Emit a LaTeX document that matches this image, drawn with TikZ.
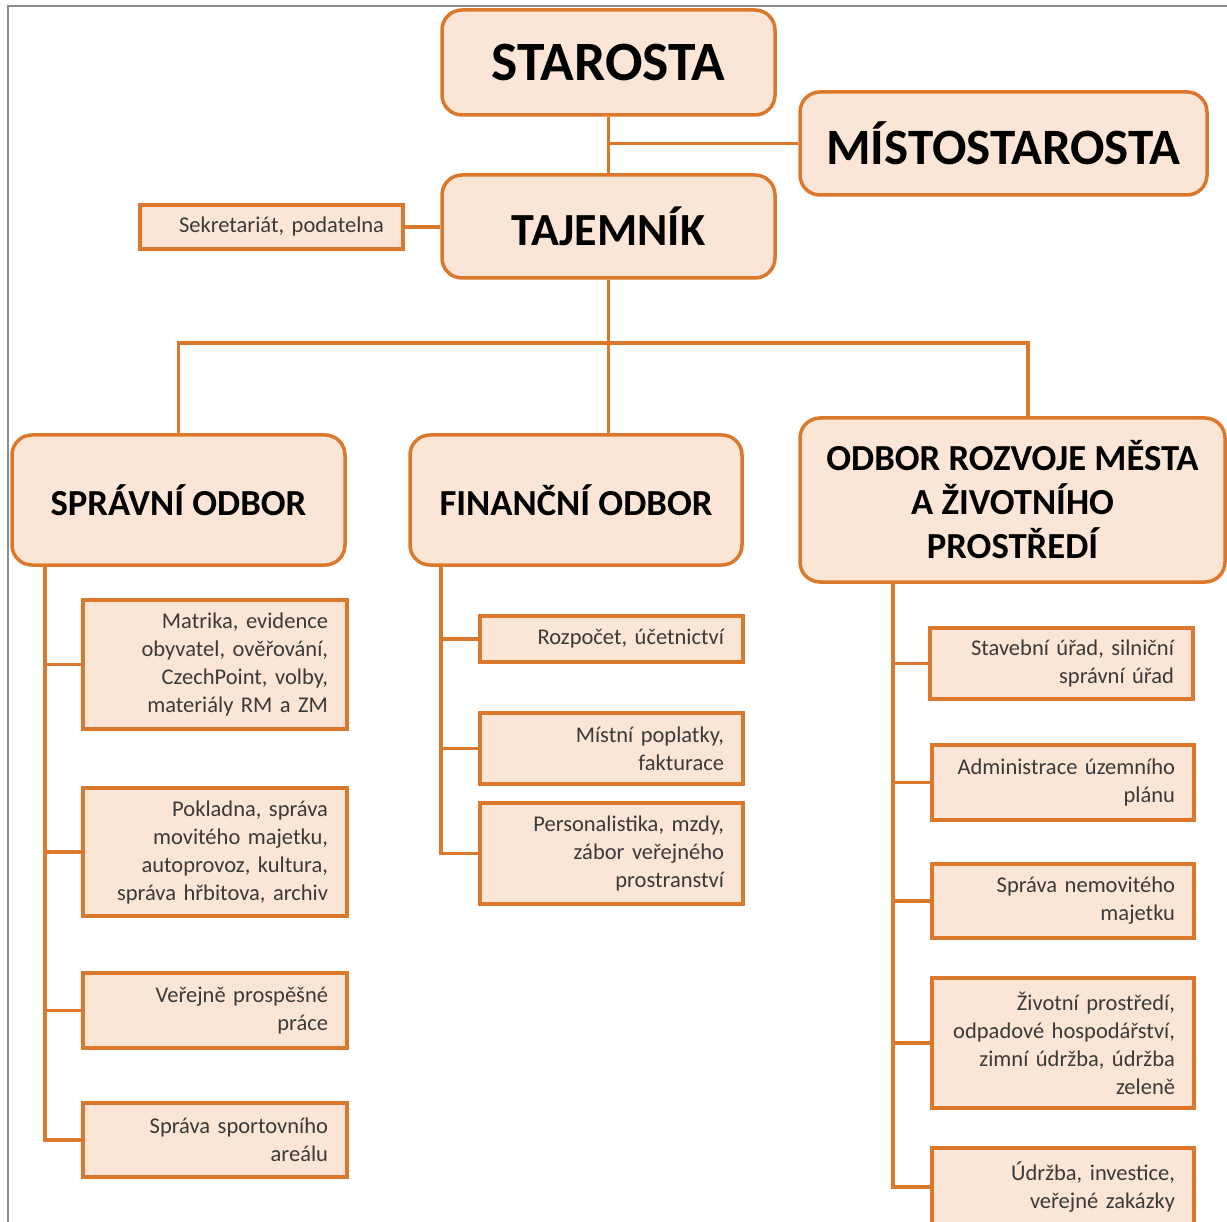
\documentclass[tikz,border=0pt]{standalone}
\usepackage{fontspec}
\setmainfont{Carlito}
\frenchspacing
\definecolor{boxline}{HTML}{DC782B}
\definecolor{boxfill}{HTML}{FBE5D6}
\definecolor{subtext}{HTML}{3A3A3A}
\definecolor{framegray}{HTML}{8C8C8C}
\tikzset{
  big/.style={draw=boxline, line width=3.5pt, fill=boxfill, rounded corners=20pt,
    inner sep=0pt, align=center, font=\bfseries, text=black},
  sub/.style={draw=boxline, line width=3.5pt, fill=boxfill, inner xsep=19pt, inner ysep=0pt,
    align=right, text=subtext, font=\fontsize{22.5}{28}\selectfont\frenchspacing},
  conn/.style={draw=boxline, line width=3.5pt},
}
\begin{document}
\begin{tikzpicture}[x=1pt,y=-1pt]
\useasboundingbox (0,0) rectangle (1227,1222);
\fill[white] (0,0) rectangle (1227,1222);
\draw[framegray, line width=2pt] (8,1230) -- (8,6) -- (1235,6);

% top level
\node[big, minimum width=333pt, minimum height=105pt, font=\bfseries\fontsize{55.5}{62}\selectfont] (star) at (608.5,62.5) {STAROSTA};
\node[big, minimum width=407pt, minimum height=103pt, font=\bfseries\fontsize{51}{58}\selectfont] (mist) at (1003.5,143.5) {MÍSTOSTAROSTA};
\node[big, minimum width=333pt, minimum height=103pt, font=\bfseries\fontsize{46}{52}\selectfont] (taj) at (608.5,226.5) {TAJEMNÍK};
\node[sub, text width=263pt-38pt, minimum height=44pt] (sekr) at (271.5,227) {Sekretariát, podatelna};

% departments
\node[big, minimum width=333pt, minimum height=130pt, font=\bfseries\fontsize{36.7}{44}\selectfont] (sprav) at (178.5,500) {SPRÁVNÍ ODBOR};
\node[big, minimum width=332pt, minimum height=130pt, font=\bfseries\fontsize{36.7}{44}\selectfont] (fin) at (576,500) {FINANČNÍ ODBOR};
\node[big, minimum width=425pt, minimum height=164pt, font=\bfseries\fontsize{36.7}{44}\selectfont] (rozv) at (1012.5,500) {ODBOR ROZVOJE MĚSTA\\A ŽIVOTNÍHO\\PROSTŘEDÍ};

% left column
\node[sub, text width=264pt-38pt, minimum height=129pt] (m1) at (215,664.5) {Matrika, evidence\\obyvatel, ověřování,\\CzechPoint, volby,\\materiály RM a ZM};
\node[sub, text width=264pt-38pt, minimum height=128pt] (m2) at (215,852) {Pokladna, správa\\movitého majetku,\\autoprovoz, kultura,\\správa hřbitova, archiv};
\node[sub, text width=264pt-38pt, minimum height=75pt] (m3) at (215,1010.5) {Veřejně prospěšné\\práce};
\node[sub, text width=264pt-38pt, minimum height=74pt] (m4) at (215,1140) {Správa sportovního\\areálu};

% middle column
\node[sub, text width=263pt-38pt, minimum height=46pt] (f1) at (611.5,639) {Rozpočet, účetnictví};
\node[sub, text width=263pt-38pt, minimum height=71pt] (f2) at (611.5,748.5) {Místní poplatky,\\fakturace};
\node[sub, text width=263pt-38pt, minimum height=101pt] (f3) at (611.5,853.5) {Personalistika, mzdy,\\zábor veřejného\\prostranství};

% right column
\node[sub, text width=263pt-38pt, minimum height=71pt] (r1) at (1061.5,663.5) {Stavební úřad, silniční\\správní úřad};
\node[sub, text width=262pt-38pt, minimum height=75pt] (r2) at (1063,782.5) {Administrace územního\\plánu};
\node[sub, text width=262pt-38pt, minimum height=74pt] (r3) at (1063,901) {Správa nemovitého\\majetku};
\node[sub, text width=262pt-38pt, minimum height=130pt] (r4) at (1063,1043) {Životní prostředí,\\odpadové hospodářství,\\zimní údržba, údržba\\zeleně};
\node[sub, text width=262pt-38pt, minimum height=78pt] (r5) at (1063,1187) {Údržba, investice,\\veřejné zakázky};

% connectors top
\draw[conn] (star.south) -- (taj.north);
\draw[conn] (mist.west) -- (mist.west -| star.south);
\draw[conn] (sekr.east) -- (sekr.east -| taj.west);
\draw[conn] (taj.south) -- (taj.south |- fin.north);
\coordinate (busL) at (178.5,343);
\coordinate (busR) at (1028,343);
\draw[conn] (sprav.north) -- (busL) -- (busR) -- (busR |- rozv.north);

% spines
\coordinate (spL) at (45,565);
\coordinate (spM) at (441,565);
\coordinate (spR) at (893,582);
\draw[conn] (spL) |- (m4.west);
\draw[conn] (spL |- m1.west) -- (m1.west);
\draw[conn] (spL |- m2.west) -- (m2.west);
\draw[conn] (spL |- m3.west) -- (m3.west);
\draw[conn] (spM) |- (f3.west);
\draw[conn] (spM |- f1.west) -- (f1.west);
\draw[conn] (spM |- f2.west) -- (f2.west);
\draw[conn] (spR) |- (r5.west);
\draw[conn] (spR |- r1.west) -- (r1.west);
\draw[conn] (spR |- r2.west) -- (r2.west);
\draw[conn] (spR |- r3.west) -- (r3.west);
\draw[conn] (spR |- r4.west) -- (r4.west);
\end{tikzpicture}
\end{document}
